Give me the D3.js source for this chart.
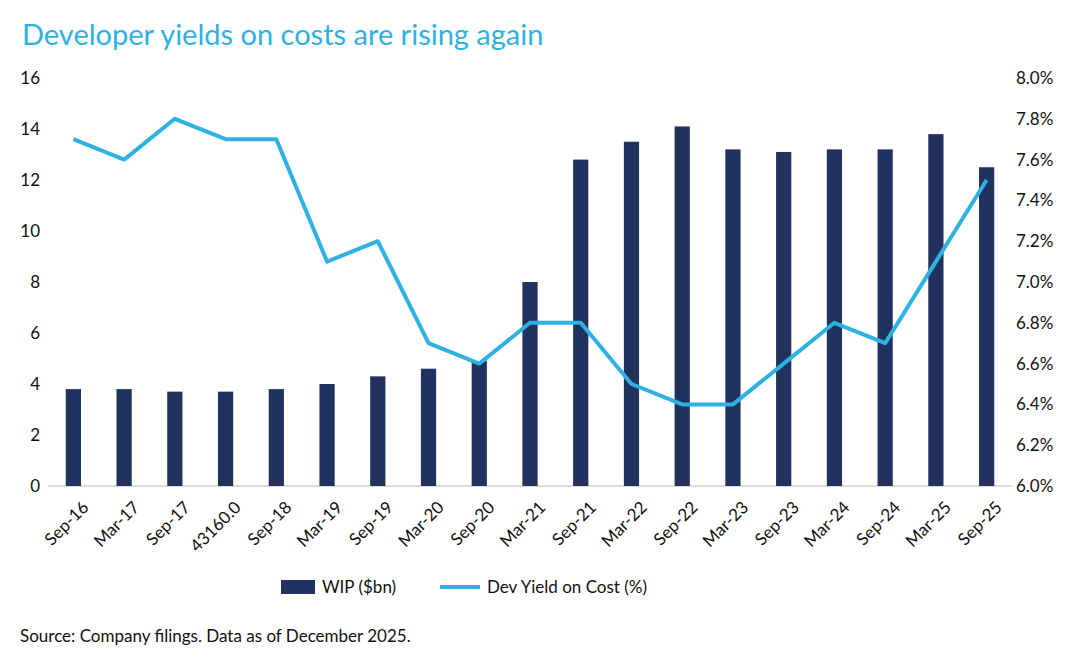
<!DOCTYPE html>
<html><head><meta charset="utf-8">
<script src="https://cdn.jsdelivr.net/npm/d3@7.9.0/dist/d3.min.js"></script>
<style>body{margin:0;background:#fff;font-family:Lato,"Open Sans",sans-serif;}</style>
</head><body><svg width="1084" height="666"></svg>
<script>
const categories = ['Sep-16','Mar-17','Sep-17','43160.0','Sep-18','Mar-19','Sep-19','Mar-20','Sep-20','Mar-21','Sep-21','Mar-22','Sep-22','Mar-23','Sep-23','Mar-24','Sep-24','Mar-25','Sep-25'];
const wip = [3.8,3.8,3.7,3.7,3.8,4.0,4.3,4.6,4.9,8.0,12.8,13.5,14.1,13.2,13.1,13.2,13.2,13.8,12.5];
const devYield = [7.7,7.6,7.8,7.7,7.7,7.1,7.2,6.7,6.6,6.8,6.8,6.5,6.4,6.4,6.6,6.8,6.7,7.1,7.5];
const leftTicks = [0,2,4,6,8,10,12,14,16];
const rightTicks = [6.0,6.2,6.4,6.6,6.8,7.0,7.2,7.4,7.6,7.8,8.0];

const navy = '#22325f', blue = '#2eb1e3';
const svg = d3.select('svg');
const x = d3.scaleBand().domain(categories).range([48, 1012]).paddingInner(0.7).paddingOuter(0.35);
const yL = d3.scaleLinear().domain([0,16]).range([486,78]);
const yR = d3.scaleLinear().domain([6,8]).range([486,78]);

svg.append('text').attr('x',22).attr('y',45).attr('fill',blue).attr('font-size',29).text('Developer yields on costs are rising again');

svg.append('line').attr('x1',48).attr('x2',1012).attr('y1',486).attr('y2',486).attr('stroke','#d0d0d0').attr('stroke-width',1.5);

svg.selectAll('rect.bar').data(wip).join('rect').attr('class','bar')
  .attr('x',(d,i)=>x(categories[i])).attr('width',x.bandwidth())
  .attr('y',d=>yL(d)).attr('height',d=>yL(0)-yL(d)).attr('fill',navy);

const line = d3.line().x((d,i)=>x(categories[i])+x.bandwidth()/2).y(d=>yR(d));
svg.append('path').datum(devYield).attr('d',line).attr('fill','none').attr('stroke',blue).attr('stroke-width',4).attr('stroke-linejoin','round');

svg.selectAll('text.yl').data(leftTicks).join('text').attr('class','yl')
  .attr('x',40).attr('y',d=>yL(d)+6).attr('text-anchor','end').attr('font-size',17).attr('fill','#111').text(d=>d);
svg.selectAll('text.yr').data(rightTicks).join('text').attr('class','yr')
  .attr('x',1016).attr('y',d=>yR(d)+6).attr('font-size',17).attr('fill','#111').text(d=>d.toFixed(1)+'%');

svg.selectAll('text.xl').data(categories).join('text').attr('class','xl')
  .attr('transform',d=>`translate(${x(d)+x.bandwidth()/2+8},${500}) rotate(-45)`)
  .attr('text-anchor','end').attr('dy','0.7em').attr('font-size',17).attr('fill','#111').text(d=>d);

const lg = svg.append('g');
lg.append('rect').attr('x',281).attr('y',580).attr('width',34).attr('height',14).attr('fill',navy);
lg.append('text').attr('x',322).attr('y',593).attr('font-size',17).attr('fill','#111').text('WIP ($bn)');
lg.append('line').attr('x1',440).attr('x2',480).attr('y1',587).attr('y2',587).attr('stroke',blue).attr('stroke-width',4);
lg.append('text').attr('x',487).attr('y',593).attr('font-size',17).attr('fill','#111').text('Dev Yield on Cost (%)');

svg.append('text').attr('x',20).attr('y',642).attr('font-size',17).attr('fill','#111').text('Source: Company filings. Data as of December 2025.');
</script></body></html>
